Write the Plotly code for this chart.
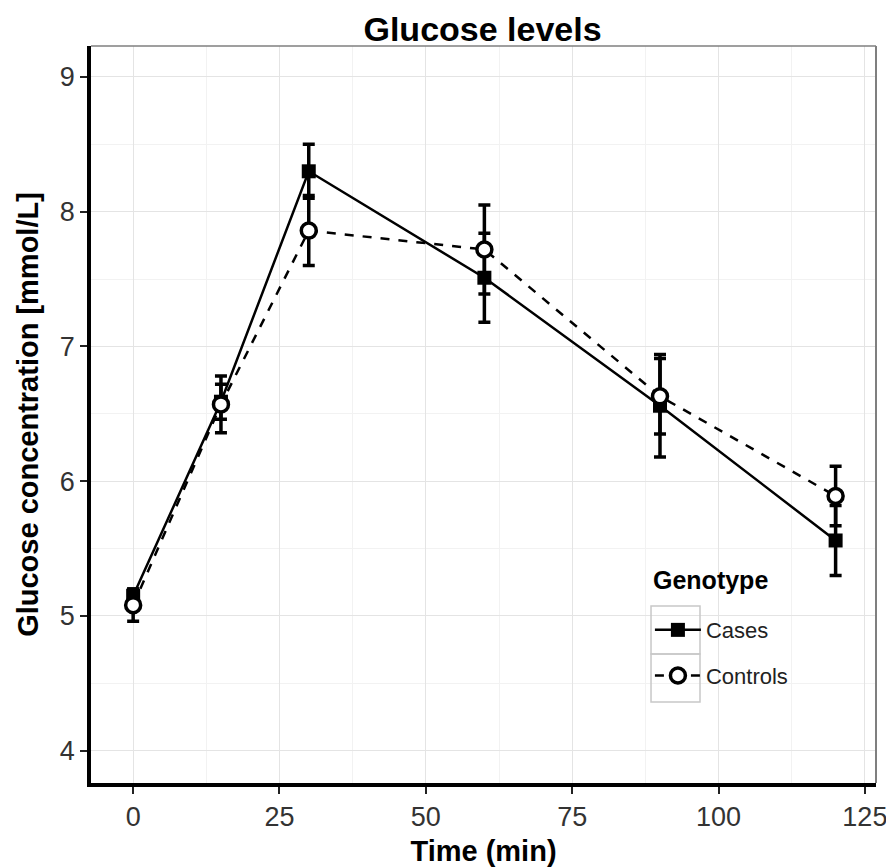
import plotly.graph_objects as go

# Time points (min)
time_min = [0, 15, 30, 60, 90, 120]

# Mean glucose and error (mmol/L)
cases_mean = [5.15, 6.59, 8.30, 7.51, 6.56, 5.56]
cases_err = [0.05, 0.13, 0.20, 0.33, 0.38, 0.26]

controls_mean = [5.08, 6.57, 7.86, 7.72, 6.63, 5.89]
controls_err = [0.12, 0.21, 0.26, 0.33, 0.28, 0.22]

font_family = "Liberation Sans, Arial, sans-serif"

fig = go.Figure()

# Cases first so the open circles of the controls sit on top
fig.add_trace(
    go.Scatter(
        x=time_min,
        y=cases_mean,
        name="Cases",
        legendgroup="cases",
        legendrank=1,
        mode="lines+markers",
        line=dict(color="black", width=2.5),
        marker=dict(symbol="square", size=14, color="black"),
        error_y=dict(
            type="data", array=cases_err, color="black", thickness=3.5, width=6
        ),
    )
)

fig.add_trace(
    go.Scatter(
        x=time_min,
        y=controls_mean,
        name="Controls",
        legendgroup="controls",
        legendrank=2,
        mode="lines+markers",
        line=dict(color="black", width=2.5, dash="dash"),
        marker=dict(
            symbol="circle",
            size=15,
            color="white",
            line=dict(color="black", width=3.5),
        ),
        error_y=dict(
            type="data", array=controls_err, color="black", thickness=3.5, width=6
        ),
    )
)

axis_common = dict(
    automargin=False,
    showgrid=True,
    gridcolor="#e4e4e4",
    gridwidth=1,
    zeroline=False,
    ticks="outside",
    ticklen=7,
    tickwidth=2,
    tickcolor="#222222",
    tickfont=dict(size=27, color="#333333", family=font_family),
    title_font=dict(size=29, color="black", family=font_family),
    showline=True,
    linecolor="black",
    linewidth=3.5,
    minor=dict(showgrid=True, gridcolor="#f2f2f2", gridwidth=1),
)

fig.update_xaxes(
    **axis_common,
    range=[-7.2, 126.9],
    tickvals=[0, 25, 50, 75, 100, 125],
    title_text="<b>Time (min)</b>",
    title_standoff=12,
)
fig.update_yaxes(
    **axis_common,
    range=[3.76, 9.23],
    tickvals=[4, 5, 6, 7, 8, 9],
    title_text="<b>Glucose concentration [mmol/L]</b>",
    title_standoff=14,
)
fig.update_xaxes(minor_dtick=12.5)
fig.update_yaxes(minor_dtick=0.5)

# Thin grey border on the top and right of the panel (ggplot style)
fig.add_shape(
    type="line", xref="paper", yref="paper", x0=0, x1=1, y0=1, y1=1,
    line=dict(color="#7f7f7f", width=1.5),
)
fig.add_shape(
    type="line", xref="paper", yref="paper", x0=1, x1=1, y0=0, y1=1,
    line=dict(color="#7f7f7f", width=2),
)

# Grey boxes around the legend keys
for y_top, y_bot in [(0.2402, 0.1750), (0.1750, 0.1099)]:
    fig.add_shape(
        type="rect", xref="paper", yref="paper",
        x0=0.7134, x1=0.7758, y0=y_bot, y1=y_top,
        line=dict(color="#c8c8c8", width=1.5),
    )

# Legend title as a separate label so the key rows can sit lower
fig.add_annotation(
    text="<b>Genotype</b>",
    xref="paper", yref="paper",
    x=0.7134, xanchor="left",
    y=0.276, yanchor="middle",
    showarrow=False,
    font=dict(size=25, color="black", family=font_family),
)

fig.update_layout(
    width=886,
    height=859,
    margin=dict(l=83, r=18, t=38, b=84),
    plot_bgcolor="white",
    paper_bgcolor="white",
    font=dict(family=font_family, color="black"),
    title=dict(
        text="<b>Glucose levels</b>",
        x=0.5356,
        xanchor="center",
        y=1 - 21 / 859,
        yanchor="middle",
        font=dict(size=34, color="black", family=font_family),
    ),
    legend=dict(
        x=0.712,
        xanchor="left",
        y=0.236,
        yanchor="top",
        font=dict(size=22, color="#222222"),
        bgcolor="rgba(255,255,255,0)",
        traceorder="grouped",
        tracegroupgap=14,
        itemwidth=46,
    ),
    showlegend=True,
)

fig.write_html("out.html")
